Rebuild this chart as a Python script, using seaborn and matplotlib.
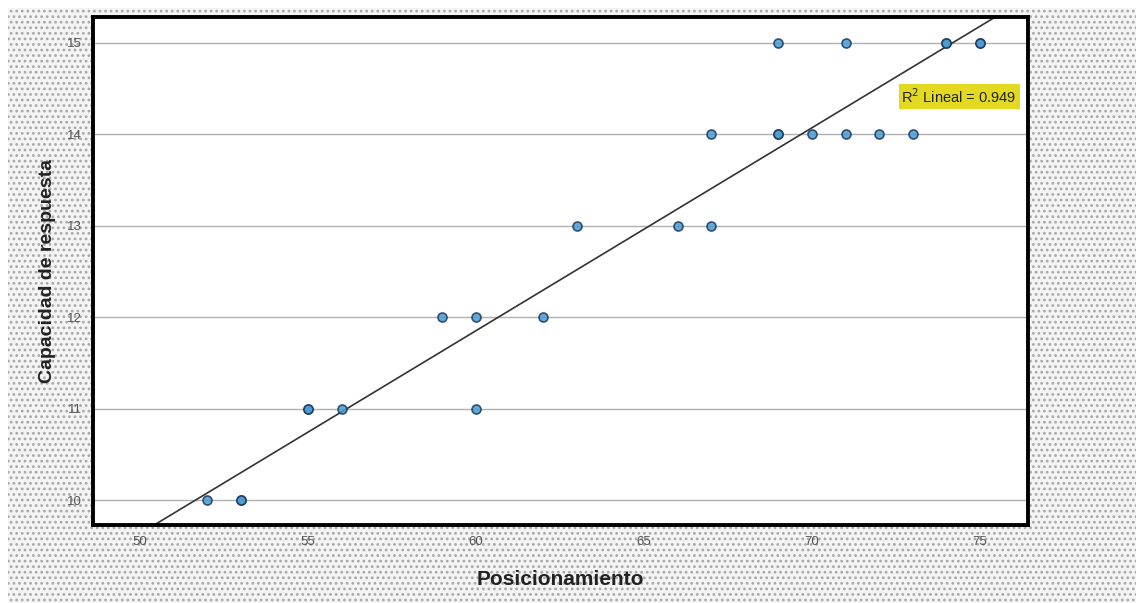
import numpy as np
import pandas as pd
import seaborn as sns
import matplotlib
matplotlib.use("Agg")
import matplotlib.pyplot as plt
from matplotlib.patches import Rectangle

# Data (duplicated points appear darker)
posicionamiento = [52, 53, 53, 55, 55, 56, 59, 60, 60, 62, 63, 66, 67, 67,
                   69, 69, 69, 70, 71, 71, 72, 73, 74, 74, 75, 75]
capacidad = [10, 10, 10, 11, 11, 11, 12, 12, 11, 12, 13, 13, 13, 14,
             14, 14, 15, 14, 14, 15, 14, 14, 15, 15, 15, 15]
x_ticks = [50, 55, 60, 65, 70, 75]
y_ticks = [10, 11, 12, 13, 14, 15]
r2_label = "R$^2$ Lineal = 0.949"

df = pd.DataFrame({"Posicionamiento": posicionamiento,
                   "Capacidad de respuesta": capacidad})

sns.set_theme(style="white")
plt.rcParams['font.family'] = ['Liberation Sans', 'DejaVu Sans']
plt.rcParams['hatch.linewidth'] = 1.2

fig = plt.figure(figsize=(11.36, 6.03), dpi=100)
fig.patch.set_facecolor('white')
bg = Rectangle((0.007, 0.0), 0.993, 0.987, transform=fig.transFigure,
               facecolor='#f4f4f4', edgecolor='#a8a8a8', linewidth=0,
               hatch='...', zorder=-10)
fig.patches.append(bg)

ax = fig.add_axes([93/1136, 1 - 525/603, (1028-93)/1136, (525-17)/603])
ax.set_facecolor('white')
ax.set_xlim(48.6, 76.43)
ax.set_ylim(9.73, 15.28)

for y in y_ticks:
    ax.axhline(y, color='#b0b0b0', lw=1.0, zorder=0)

sns.regplot(data=df, x="Posicionamiento", y="Capacidad de respuesta", ax=ax,
            ci=None, truncate=False,
            scatter_kws=dict(s=42, color='#4b9bd1', edgecolor='#173a5e',
                             linewidths=1.2, alpha=0.85, zorder=3),
            line_kws=dict(color='#333333', lw=1.2, zorder=2))
ax.set_xlim(48.6, 76.43)
ax.set_ylim(9.73, 15.28)

ax.set_xticks(x_ticks)
ax.set_yticks(y_ticks)
ax.tick_params(axis='both', labelsize=9.5, labelcolor='#555555', length=0, pad=8)
for sp in ax.spines.values():
    sp.set_color('black')
    sp.set_linewidth(2.8)

ax.set_xlabel("Posicionamiento", fontsize=15, fontweight='bold', labelpad=16,
              color='#222222')
ax.set_ylabel("Capacidad de respuesta", fontsize=14, fontweight='bold', labelpad=8,
              color='#222222')

ax.text(0.988, 0.843, r2_label, transform=ax.transAxes, ha='right', va='center',
        fontsize=10.5, color='#222222',
        bbox=dict(boxstyle='square,pad=0.2', facecolor='#e2d920', edgecolor='none'))

fig.savefig("out.png", dpi=100)
